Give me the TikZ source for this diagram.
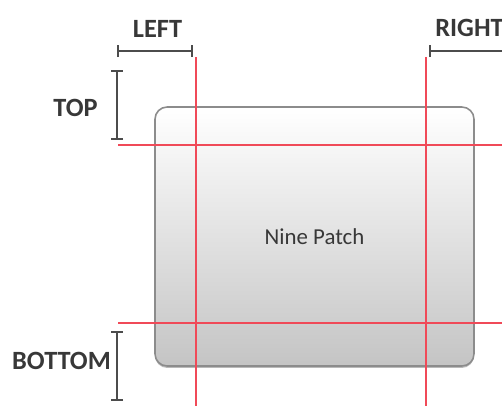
\documentclass[tikz,border=0pt]{standalone}
\usepackage{fontspec}
\setmainfont{Carlito}
\usetikzlibrary{positioning, arrows.meta, shadows}
\definecolor{guide}{HTML}{F04A58}
\definecolor{ink}{HTML}{383838}

\begin{document}
\begin{tikzpicture}[
  x=0.02cm, y=-0.02cm,
  label/.style={font=\fontsize{15}{17}\selectfont\bfseries, text=ink, inner sep=0pt},
  dim/.style={draw=ink!90, line width=0.9pt, {Bar[width=0.24cm]}-{Bar[width=0.24cm]}},
  guideline/.style={draw=guide, line width=0.8pt},
  panel/.style={draw=black!45, line width=0.9pt, rounded corners=0.24cm,
    top color=white, bottom color=black!23, minimum width=6.38cm, minimum height=5.18cm,
    drop shadow={shadow xshift=0pt, shadow yshift=-1.1pt, opacity=0.55},
    font=\fontsize{13}{15}\selectfont, text=ink}
]
  \useasboundingbox (0,0) rectangle (502,406);

  \node[panel] (patch) at (314.5,236.5) {Nine Patch};

  % guides
  \coordinate (vlA) at (196,57);  \coordinate (vlB) at (196,406);
  \coordinate (vrA) at (426,57);  \coordinate (vrB) at (426,406);
  \coordinate (htA) at (118,145); \coordinate (htB) at (502,145);
  \coordinate (hbA) at (118,323); \coordinate (hbB) at (502,323);
  \draw[guideline] (vlA) -- (vlB);
  \draw[guideline] (vrA) -- (vrB);
  \draw[guideline] (htA) -- (htB);
  \draw[guideline] (hbA) -- (hbB);

  % labels
  \node[label] (left) at (157.5,29) {LEFT};
  \node[label, anchor=west] (right) at (435,28) {RIGHT};
  \node[label] (top) at (75.5,108) {TOP};
  \node[label] (bottom) at (61.5,361) {BOTTOM};

  % dimension bars
  \coordinate (lA) at (117,51);  \coordinate (lB) at (193,51);
  \coordinate (rA) at (429,51);  \coordinate (rB) at (520,51);
  \coordinate (tA) at (117,70);  \coordinate (tB) at (117,140);
  \coordinate (bA) at (117,331); \coordinate (bB) at (117,401);
  \draw[dim] (lA) -- (lB);
  \draw[dim] (rA) -- (rB);
  \draw[dim] (tA) -- (tB);
  \draw[dim] (bA) -- (bB);
\end{tikzpicture}
\end{document}
